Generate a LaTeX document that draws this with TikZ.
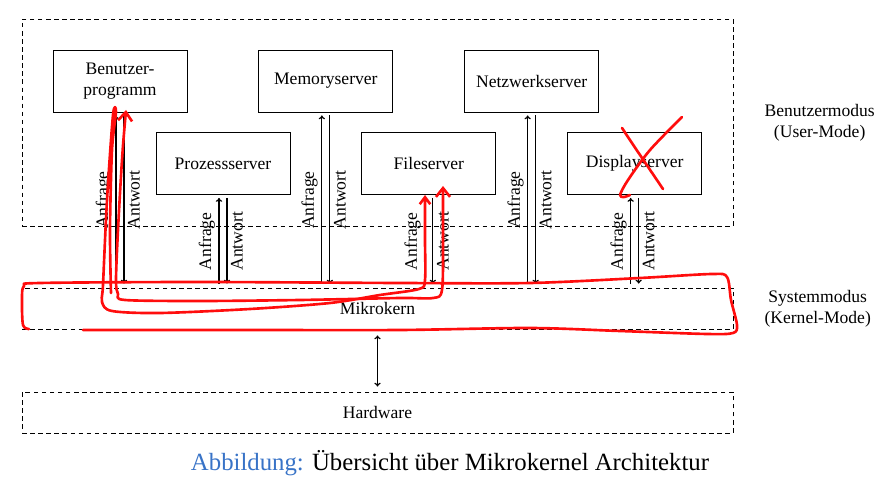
\documentclass[tikz,border=0pt]{standalone}
\usepackage{fontspec}
\setmainfont{Liberation Serif}
\usepackage{xcolor}
\usepackage{tikz}
\usetikzlibrary{arrows.meta, positioning}
\definecolor{capblue}{rgb}{0.22,0.45,0.78}
\definecolor{penred}{rgb}{1.0,0.05,0.05}

\begin{document}
\begin{tikzpicture}[x=0.02cm, y=-0.02cm,
    srvbox/.style={rectangle, draw=black, line width=0.5pt, minimum width=2.68cm, minimum height=1.24cm, align=center, font=\fontsize{10}{12}\selectfont},
    modebox/.style={rectangle, draw=black, dash pattern=on 2.6pt off 2pt, line width=0.45pt, minimum width=14.22cm, align=center, font=\fontsize{10}{12}\selectfont},
    sidelabel/.style={align=center, font=\fontsize{10}{12}\selectfont},
    line/.style={draw=black, line width=0.7pt, -{To[length=2.2pt,width=3.6pt]}, shorten <=0.08cm, shorten >=0.06cm},
    lbl/.style={midway, rotate=90, inner sep=2pt, font=\fontsize{10}{12}\selectfont},
    scribble/.style={draw=penred, line width=1.5pt, line cap=round, line join=round}
]
    \useasboundingbox (0,0) rectangle (896,503);

    % Modes
    \node (user) [modebox, minimum height=4.14cm] at (377.5,122.5) {};
    \node (kern) [modebox, minimum height=0.82cm] at (377.5,308.5) {Mikrokern};
    \node (hw) [modebox, minimum height=0.82cm] at (377.5,412.5) {Hardware};
    \node (usrlbl) [sidelabel, right=0.5cm of user] {Benutzermodus\\(User-Mode)};
    \node (krnlbl) [sidelabel, right=0.5cm of kern] {Systemmodus\\(Kernel-Mode)};

    % Servers
    \node (benutzer) [srvbox] at (120,81) {Benutzer-\\programm};
    \node (mem) [srvbox, right=1.42cm of benutzer] {Memoryserver};
    \node (netz) [srvbox, right=1.42cm of mem] {Netzwerkserver};
    \node (prozess) [srvbox] at (223,163.5) {Prozessserver};
    \node (file) [srvbox, right=1.42cm of prozess] {Fileserver};
    \node (display) [srvbox, right=1.42cm of file] {Displayserver};

    % Anfrage / Antwort
    \foreach \s in {benutzer, mem, netz, prozess, file, display} {
        \draw [line] ([xshift=-0.08cm]\s.south |- kern.north) -- node[lbl, anchor=south] {Anfrage} ([xshift=-0.08cm]\s.south);
        \draw [line, shorten <=0.06cm, shorten >=0.08cm] ([xshift=0.08cm]\s.south) -- node[lbl, anchor=north] {Antwort} ([xshift=0.08cm]\s.south |- kern.north);
    }
    \draw [line, {To[length=2.2pt,width=3.6pt]}-{To[length=2.2pt,width=3.6pt]}, shorten <=0.12cm, shorten >=0.1cm] (kern) -- (hw);

    % Pen marks
    \draw [scribble] plot[smooth, tension=0.5] coordinates {(29,329) (23,325) (22,300) (24,286) (40,283) (200,282) (400,283) (530,283) (640,278) (712,274) (727,277) (731,300) (737,325) (733,333) (707,334) (620,331) (530,328) (400,330) (250,330) (83,330)};
    \draw [scribble, {Straight Barb[length=4pt,width=6pt]}-] plot[smooth, tension=0.5] coordinates {(425,195) (425,240) (425,280) (419,289) (380,295) (330,303) (250,309) (160,313) (112,311) (102,302) (103,285) (107,200) (113,115) (116,112) (112,150) (110,230) (111,293)};
    \draw [scribble, {Straight Barb[length=5pt,width=8pt]}-{Straight Barb[length=5pt,width=8pt]}] plot[smooth, tension=0.5] coordinates {(126,110) (122,160) (118,230) (116,280) (118,294) (125,300) (200,301) (300,300) (400,298) (433,298) (442,290) (443,240) (443,186)};
    \draw [scribble] plot[smooth, tension=0.5] coordinates {(622,128) (640,155) (663,189)};
    \draw [scribble] plot[smooth, tension=0.5] coordinates {(682,117) (650,150) (628,180) (620,195) (624,197) (630,195)};

    % Caption
    \node (caption) at (450,463) {\fontsize{14.1}{17}\selectfont\textcolor{capblue}{Abbildung:} Übersicht über Mikrokernel Architektur};
\end{tikzpicture}
\end{document}
